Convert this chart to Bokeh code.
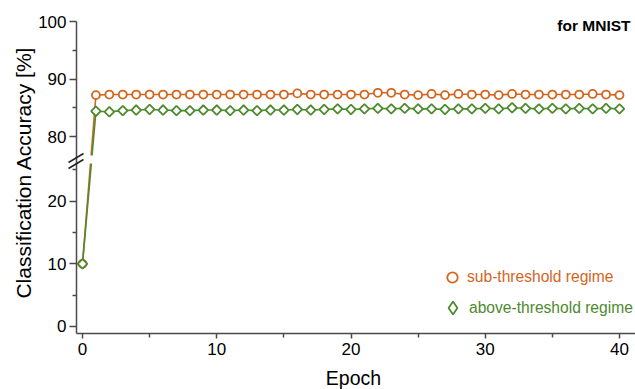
import numpy as np
from bokeh.plotting import figure
from bokeh.models import (Range1d, FixedTicker, Legend, LegendItem, Label, Arrow,
                          ColumnDataSource, CustomJSTransform, CustomJSTickFormatter,
                          BoxAnnotation)
from bokeh.transform import transform
from bokeh.embed import file_html
from bokeh.resources import INLINE

# ---------------- data ----------------
epochs = list(range(0, 41))
sub_threshold = [10.0, 87.2, 87.3, 87.3, 87.3, 87.3, 87.3, 87.3, 87.3, 87.3,
                 87.3, 87.3, 87.3, 87.3, 87.3, 87.3, 87.5, 87.3, 87.3, 87.3,
                 87.3, 87.3, 87.6, 87.6, 87.3, 87.2, 87.4, 87.2, 87.4, 87.3,
                 87.3, 87.2, 87.4, 87.3, 87.3, 87.3, 87.3, 87.3, 87.4, 87.3, 87.2]
above_threshold = [10.0, 84.4, 84.3, 84.5, 84.6, 84.7, 84.6, 84.5, 84.5, 84.6,
                   84.6, 84.5, 84.6, 84.5, 84.6, 84.6, 84.7, 84.6, 84.7, 84.8,
                   84.7, 84.8, 84.9, 84.8, 84.9, 84.8, 84.8, 84.7, 84.8, 84.8,
                   84.9, 84.8, 85.0, 84.9, 84.8, 84.9, 84.8, 84.9, 84.8, 84.9, 84.8]
series_names = ["sub-threshold regime", "above-threshold regime"]
x_ticks = [0, 10, 20, 30, 40]
x_minor_ticks = [5, 15, 25, 35]
y_ticks = [0, 10, 20, 80, 90, 100]
y_minor_ticks = [5, 15, 25, 85, 95]

# ---------------- style / geometry ----------------
FONT = "Liberation Sans"
ORANGE = "#D4651E"
GREEN = "#4E8A2F"
AXIS = "#4a4a4a"

W, H = 635, 389
X_PX_PER_UNIT = 13.425          # epoch scale
X0_PX = 82                      # picture x of epoch 0
AXIS_X_PX = 76                  # picture x of the y-axis line
AXIS_Y_PX = 333                 # picture y of the x-axis line
TOP_PX = 21                     # picture y of the value 100
LOW_PX_PER_UNIT = 6.265         # lower panel scale (0..25)
UP_PX_PER_UNIT = 5.75           # upper panel scale (76..100)
Y_MIN = -1.12                   # value at the x-axis line

x_start = -X0_PX / X_PX_PER_UNIT
x_end = x_start + W / X_PX_PER_UNIT


def px_x(px):
    return x_start + px / X_PX_PER_UNIT


def px_d(py):
    # picture y -> display coordinate (lower-panel units)
    return Y_MIN + (AXIS_Y_PX - py) / LOW_PX_PER_UNIT


# broken axis: lower panel shown up to picture y=163, upper panel down to y=155
LO_MAX = px_d(163)
D_UP_MIN = px_d(155)
UP_MIN = 80 - (155 - (TOP_PX + 115)) / UP_PX_PER_UNIT   # 80 sits 115 px below 100
K = UP_PX_PER_UNIT / LOW_PX_PER_UNIT


def to_display(v):
    if v <= LO_MAX:
        return v
    if v >= UP_MIN:
        return D_UP_MIN + (v - UP_MIN) * K
    return LO_MAX + (v - LO_MAX) / (UP_MIN - LO_MAX) * (D_UP_MIN - LO_MAX)


brk_args = dict(lo_max=LO_MAX, up_min=UP_MIN, d_up_min=D_UP_MIN, k=K)
brk = CustomJSTransform(args=brk_args, func="""
if (x <= lo_max) return x
if (x >= up_min) return d_up_min + (x - up_min) * k
return lo_max + (x - lo_max) / (up_min - lo_max) * (d_up_min - lo_max)
""", v_func="""
const out = new Array(xs.length)
for (let i = 0; i < xs.length; i++) {
  const x = xs[i]
  if (x <= lo_max) out[i] = x
  else if (x >= up_min) out[i] = d_up_min + (x - up_min) * k
  else out[i] = lo_max + (x - lo_max) / (up_min - lo_max) * (d_up_min - lo_max)
}
return out
""")

src = ColumnDataSource(dict(epoch=epochs, sub=sub_threshold, above=above_threshold))

p = figure(width=W, height=H, x_range=Range1d(x_start, x_end),
           y_range=Range1d(px_d(H), px_d(0)),
           output_backend="svg", toolbar_location=None, min_border=0)
p.grid.visible = False
p.outline_line_color = None
p.background_fill_color = "white"
p.border_fill_color = "white"

# ---------------- series ----------------
p.line("epoch", transform("sub", brk), source=src, color=ORANGE, line_width=1.6)
r_sub = p.scatter("epoch", transform("sub", brk), source=src, marker="circle", size=8.0,
                  line_color=ORANGE, fill_color="white", line_width=1.8)
p.line("epoch", transform("above", brk), source=src, color=GREEN, line_width=1.6)
p.scatter("epoch", transform("above", brk), source=src, marker="square", angle=np.pi / 4,
          size=6.8, line_color=GREEN, fill_color="white", line_width=1.8)

# white band that opens the gap of the axis break in the data line
p.add_layout(BoxAnnotation(bottom=LO_MAX, top=D_UP_MIN, fill_color="white", fill_alpha=1.0,
                           line_alpha=0, level="glyph"))

# ---------------- y axis (broken) ----------------
ya = p.yaxis[0]
ya.fixed_location = px_x(AXIS_X_PX)
ya.bounds = (Y_MIN, to_display(100))
ya.ticker = FixedTicker(ticks=[to_display(v) for v in y_ticks],
                        minor_ticks=[to_display(v) for v in y_minor_ticks])
ya.formatter = CustomJSTickFormatter(args=brk_args, code="""
let v = tick
if (tick > d_up_min - 1e-9) v = up_min + (tick - d_up_min) / k
return Math.round(v).toString()
""")
ya.axis_line_color = AXIS
ya.axis_line_width = 1.5
ya.major_tick_line_color = AXIS
ya.major_tick_line_width = 1.5
ya.major_tick_out = 7
ya.major_tick_in = 0
ya.minor_tick_line_color = AXIS
ya.minor_tick_line_width = 1.5
ya.minor_tick_out = 4
ya.minor_tick_in = 0
ya.major_label_text_font = FONT
ya.major_label_text_font_size = "17px"
ya.major_label_text_color = "black"
ya.major_label_standoff = 3

# break marks across the y axis
for c in (157.5, 163.5):
    p.add_layout(Arrow(end=None, x_start=px_x(68), y_start=px_d(c + 4.5),
                       x_end=px_x(83), y_end=px_d(c - 4.5),
                       line_color="#222222", line_width=1.5))

# ---------------- x axis ----------------
xa = p.xaxis[0]
xa.fixed_location = Y_MIN
xa.bounds = (px_x(AXIS_X_PX), x_end)
xa.ticker = FixedTicker(ticks=x_ticks, minor_ticks=x_minor_ticks)
xa.axis_line_color = AXIS
xa.axis_line_width = 1.5
xa.major_tick_line_color = AXIS
xa.major_tick_line_width = 1.5
xa.major_tick_out = 5
xa.major_tick_in = 0
xa.minor_tick_line_color = AXIS
xa.minor_tick_line_width = 1.5
xa.minor_tick_out = 4
xa.minor_tick_in = 0
xa.major_label_text_font = FONT
xa.major_label_text_font_size = "17px"
xa.major_label_text_color = "black"
xa.major_label_standoff = 4

# ---------------- texts ----------------
p.add_layout(Label(x=px_x(353), y=px_d(377), text="Epoch", text_align="center",
                   text_baseline="middle", text_font=FONT, text_font_size="19.5px",
                   text_color="black"))
p.add_layout(Label(x=px_x(23), y=px_d(172), text="Classification Accuracy [%]",
                   angle=np.pi / 2, text_align="center", text_baseline="middle",
                   text_font=FONT, text_font_size="21px", text_color="black"))
p.add_layout(Label(x=px_x(630), y=px_d(25), text="for MNIST", text_align="right",
                   text_baseline="middle", text_font=FONT, text_font_size="15.5px",
                   text_font_style="bold", text_color="black"))

# ---------------- legends ----------------
r_key = p.scatter(x=np.array([np.nan]), y=np.array([np.nan]), marker="diamond",
                  size=10, line_color=GREEN, fill_color="white", line_width=1.8)
leg1 = Legend(items=[LegendItem(label=series_names[0], renderers=[r_sub])],
              location=(439, 99), glyph_width=26, glyph_height=26, label_standoff=2,
              label_text_font=FONT, label_text_font_size="15.6px", label_text_color=ORANGE,
              padding=0, margin=0, border_line_alpha=0, background_fill_alpha=0)
leg2 = Legend(items=[LegendItem(label=series_names[1], renderers=[r_key])],
              location=(436, 65), glyph_width=33, glyph_height=33, label_standoff=0,
              label_text_font=FONT, label_text_font_size="15.6px", label_text_color=GREEN,
              padding=0, margin=0, border_line_alpha=0, background_fill_alpha=0)
p.add_layout(leg1)
p.add_layout(leg2)

open("out.html", "w").write(file_html(p, INLINE))
